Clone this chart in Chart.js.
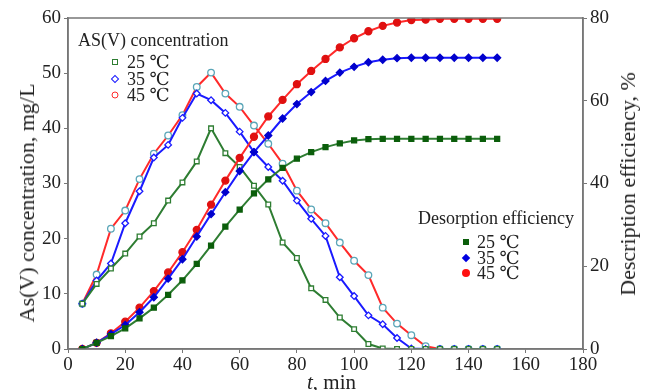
<!DOCTYPE html>
<html>
<head>
<meta charset="utf-8">
<script src="https://cdn.jsdelivr.net/npm/chart.js@4"></script>
<style>
  html, body { margin: 0; padding: 0; background: #fff; }
  #wrap { position: relative; width: 647px; height: 390px; font-family: "Liberation Serif", "DejaVu Serif", serif; color: #222; }
  canvas { position: absolute; left: 0; top: 0; }
  .txt { position: absolute; white-space: nowrap; font-size: 18px; line-height: 18px; }
  .axt { position: absolute; white-space: nowrap; font-size: 22px; line-height: 22px; transform: translate(-50%, -50%) rotate(-90deg); }
  .mk { position: absolute; width: 6px; height: 6px; box-sizing: border-box; transform: translate(-50%, -50%); }
  .sq-open { border: 1.5px solid #2e7d32; background: #fff; }
  .di-open { border: 1.5px solid #1a1aff; background: #fff; transform: translate(-50%, -50%) rotate(45deg); }
  .ci-open { border: 1.5px solid #ff2a2a; background: #fff; border-radius: 50%; width: 7px; height: 7px; }
  .sq-full { background: #0b5e0b; }
  .di-full { background: #0000e0; transform: translate(-50%, -50%) rotate(45deg); }
  .ci-full { background: #ff1010; border-radius: 50%; width: 8px; height: 8px; }
</style>
</head>
<body>
<div id="wrap">
  <canvas id="chart" width="647" height="390"></canvas>

  <!-- axis titles -->
  <div class="axt" style="left:27px; top:203px;">As(V) concentration, mg/L</div>
  <div class="axt" style="left:628px; top:184px;">Description efficiency, %</div>
  <div class="txt" style="left:307px; top:372px; font-size:21px; line-height:21px;"><i>t</i>, min</div>

  <!-- concentration legend -->
  <div class="txt" style="left:78px; top:31px;">AS(V) concentration</div>
  <span class="mk sq-open" style="left:115px; top:62px;"></span><div class="txt" style="left:127px; top:53px;">25 ℃</div>
  <span class="mk di-open" style="left:115px; top:79px;"></span><div class="txt" style="left:127px; top:70px;">35 ℃</div>
  <span class="mk ci-open" style="left:115px; top:95px;"></span><div class="txt" style="left:127px; top:86px;">45 ℃</div>

  <!-- efficiency legend -->
  <div class="txt" style="left:418px; top:209px;">Desorption efficiency</div>
  <span class="mk sq-full" style="left:466px; top:242px;"></span><div class="txt" style="left:477px; top:233px;">25 ℃</div>
  <span class="mk di-full" style="left:466px; top:258px;"></span><div class="txt" style="left:477px; top:249px;">35 ℃</div>
  <span class="mk ci-full" style="left:466px; top:273px;"></span><div class="txt" style="left:477px; top:264px;">45 ℃</div>
</div>
<script>
// data: time in minutes, concentration in mg/L, efficiency in %
const minutes = [5, 10, 15, 20, 25, 30, 35, 40, 45, 50, 55, 60, 65, 70, 75,
                 80, 85, 90, 95, 100, 105, 110, 115, 120, 125, 130, 135, 140, 145, 150];

const conc25 = [8.2, 11.8, 14.6, 17.3, 20.4, 22.8, 26.9, 30.2, 34.0, 40.0, 35.5, 33.0, 29.6, 26.2, 19.3,
                16.5, 11.0, 8.9, 5.7, 3.6, 0.9, 0.1, 0, 0, 0, 0, 0, 0, 0, 0];
const conc35 = [8.2, 12.4, 15.5, 22.8, 28.6, 34.7, 37.0, 41.9, 46.3, 45.1, 42.8, 39.4, 35.7, 33.0, 30.5,
                26.9, 23.6, 20.5, 13.0, 9.6, 6.1, 4.5, 2.0, 0.1, 0, 0, 0, 0, 0, 0];
const conc45 = [8.2, 13.5, 21.8, 25.1, 30.8, 35.4, 38.7, 42.4, 47.5, 50.1, 46.3, 43.9, 40.5, 37.2, 33.6,
                28.7, 25.3, 22.8, 19.3, 16.0, 13.4, 7.5, 4.6, 2.5, 0.5, 0, 0, 0, 0, 0];

const eff25 = [0, 1.5, 3.1, 5.0, 7.4, 10.0, 13.1, 16.6, 20.6, 25.0, 29.6, 33.7, 37.6, 41.0, 43.8,
               46.0, 47.6, 48.8, 49.7, 50.4, 50.7, 50.8, 50.8, 50.8, 50.8, 50.8, 50.8, 50.8, 50.8, 50.8];
const eff35 = [0, 1.5, 3.6, 5.8, 8.9, 12.5, 17.0, 21.7, 27.2, 32.6, 37.9, 43.0, 47.6, 51.6, 55.7,
               59.2, 62.1, 64.8, 66.8, 68.2, 69.3, 69.9, 70.3, 70.4, 70.4, 70.4, 70.4, 70.4, 70.4, 70.4];
const eff45 = [0, 1.5, 3.8, 6.6, 10.0, 14.0, 18.5, 23.4, 28.8, 34.9, 40.7, 46.2, 51.3, 56.2, 60.2,
               64.0, 67.2, 70.1, 72.9, 75.1, 76.8, 78.1, 78.9, 79.5, 79.6, 79.8, 79.8, 79.8, 79.8, 79.8];

const xTicks = [0, 20, 40, 60, 80, 100, 120, 140, 160, 180];

const pts = arr => arr.map((v, i) => ({ x: minutes[i], y: v }));
const serif = '"Liberation Serif", "DejaVu Serif", serif';

// gray frame round the plot area
const framePlugin = {
  id: 'frame',
  afterDraw(chart) {
    const { ctx, chartArea: a } = chart;
    ctx.save();
    ctx.strokeStyle = '#777';
    ctx.lineWidth = 1.5;
    ctx.strokeRect(a.left, a.top, a.right - a.left, a.bottom - a.top);
    ctx.restore();
  }
};

function series(data, color, axis, style, radius, fill, border) {
  return {
    data: pts(data), yAxisID: axis,
    borderColor: color, borderWidth: 2, tension: 0,
    pointStyle: style, pointRadius: radius, pointBorderWidth: 1.3,
    pointBackgroundColor: fill, pointBorderColor: border
  };
}

const tickFont = { family: serif, size: 19 };

new Chart(document.getElementById('chart'), {
  type: 'line',
  data: {
    datasets: [
      series(eff25, '#2e7d32', 'y1', 'rect', 3.5, '#0b5e0b', '#0b5e0b'),
      series(eff35, '#1a1aff', 'y1', 'rectRot', 3.5, '#0000cc', '#0000cc'),
      series(eff45, '#ff2a2a', 'y1', 'circle', 3.5, '#e01010', '#e01010'),
      series(conc25, '#2e7d32', 'y', 'rect', 3.3, '#fff', '#2e7d32'),
      series(conc35, '#1a1aff', 'y', 'rectRot', 3.3, '#fff', '#1a1aff'),
      series(conc45, '#ff2a2a', 'y', 'circle', 3.3, '#fff', '#5aa6b8'),
    ]
  },
  options: {
    responsive: false, animation: false,
    layout: { padding: { top: 18 } },
    plugins: { legend: { display: false }, tooltip: { enabled: false } },
    scales: {
      x: {
        type: 'linear', min: 0, max: 180,
        afterBuildTicks: s => { s.ticks = xTicks.map(v => ({ value: v })); },
        afterFit: s => { s.height = 41; },
        grid: { drawOnChartArea: false, tickLength: 4, color: '#777' },
        border: { color: '#777', width: 1.5 },
        ticks: { color: '#222', font: tickFont, padding: 1, maxRotation: 0 }
      },
      y: {
        position: 'left', min: 0, max: 60,
        afterFit: s => { s.width = 68; },
        grid: { drawOnChartArea: false, tickLength: 4, color: '#777' },
        border: { color: '#777', width: 1.5 },
        ticks: { stepSize: 10, color: '#222', font: tickFont, padding: 3 }
      },
      y1: {
        position: 'right', min: 0, max: 80,
        afterFit: s => { s.width = 64; },
        grid: { drawOnChartArea: false, tickLength: 4, color: '#777' },
        border: { color: '#777', width: 1.5 },
        ticks: { stepSize: 20, color: '#222', font: tickFont, padding: 3 }
      }
    }
  },
  plugins: [framePlugin]
});
</script>
</body>
</html>
